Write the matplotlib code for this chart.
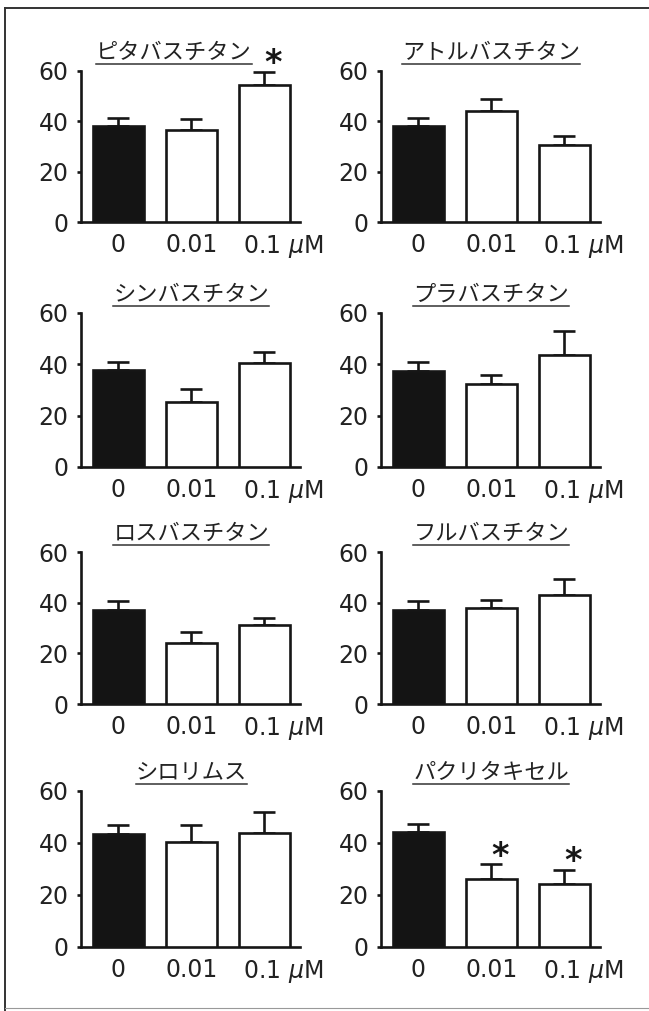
import numpy as np
import matplotlib
matplotlib.use('Agg')
import matplotlib.pyplot as plt
from matplotlib.lines import Line2D
from matplotlib.transforms import ScaledTranslation

plt.rcParams['font.family'] = ['DejaVu Sans', 'Noto Sans CJK JP']

# ---------------------------------------------------------------
# data
# ---------------------------------------------------------------
doses = ['0', '0.01', '0.1 $\\mu$M']

titles = ['ピタバスチタン', 'アトルバスチタン', 'シンバスチタン', 'プラバスチタン',
          'ロスバスチタン', 'フルバスチタン', 'シロリムス', 'パクリタキセル']

pitava_mean = [38.1, 36.5, 54.4]
pitava_err = [3.1, 4.4, 5.4]
atorva_mean = [38.0, 44.1, 30.5]
atorva_err = [3.2, 4.9, 3.6]
simva_mean = [37.7, 25.3, 40.4]
simva_err = [3.1, 5.1, 4.4]
prava_mean = [37.3, 32.5, 43.8]
prava_err = [3.6, 3.3, 9.1]
rosuva_mean = [37.0, 24.2, 31.1]
rosuva_err = [3.5, 4.4, 2.9]
fluva_mean = [37.3, 37.8, 42.9]
fluva_err = [3.4, 3.4, 6.6]
siro_mean = [43.5, 40.4, 44.0]
siro_err = [3.3, 6.6, 8.1]
pacli_mean = [44.1, 26.0, 24.2]
pacli_err = [3.1, 5.8, 5.4]

# significance marks (*)
pitava_sig = [False, False, True]
pacli_sig = [False, True, True]
no_sig = [False, False, False]

means = [pitava_mean, atorva_mean, simva_mean, prava_mean,
         rosuva_mean, fluva_mean, siro_mean, pacli_mean]
errs = [pitava_err, atorva_err, simva_err, prava_err,
        rosuva_err, fluva_err, siro_err, pacli_err]
sigs = [pitava_sig, no_sig, no_sig, no_sig, no_sig, no_sig, no_sig, pacli_sig]

yticks = [0, 20, 40, 60]

# ---------------------------------------------------------------
# layout (pixels of a 649x1011 canvas)
# ---------------------------------------------------------------
W, H = 649, 1011
col_x = [(81, 300), (381, 600)]
row_y = [(71, 222), (313, 467), (552, 704), (791, 947)]
title_x = [0.76, 1, 1, 1, 1, 1, 1, 1]
ink = '#161616'
txt = '#222222'

fig = plt.figure(figsize=(W / 100, H / 100), dpi=100)

axes = []
title_texts = []
for i in range(8):
    r, c = divmod(i, 2)
    x0, x1 = col_x[c]
    y0, y1 = row_y[r]
    ax = fig.add_axes([x0 / W, 1 - y1 / H, (x1 - x0) / W, (y1 - y0) / H])
    axes.append(ax)
    x = np.arange(3)
    colors = ['#141414', 'white', 'white']
    ax.bar(x, means[i], width=0.7, color=colors, edgecolor=ink, linewidth=1.9,
           zorder=3)
    ax.errorbar(x, means[i], yerr=[np.zeros(3), errs[i]], fmt='none',
                ecolor=ink, elinewidth=1.9, capsize=8, capthick=1.9,
                zorder=2, clip_on=False)
    for j in range(3):
        if sigs[i][j]:
            ax.annotate('*', xy=(j, means[i][j] + errs[i][j]), xycoords='data',
                        xytext=(6, -1), textcoords='offset points',
                        ha='center', va='baseline', fontsize=24,
                        fontweight='bold', color=ink, annotation_clip=False)

    ax.set_xlim(-0.51, 2.49)
    ax.set_ylim(0, 60)
    ax.set_yticks(yticks)
    ax.set_xticks(x)
    ax.set_xticklabels(doses)
    for s in ['top', 'right']:
        ax.spines[s].set_visible(False)
    for s in ['left', 'bottom']:
        ax.spines[s].set_linewidth(1.9)
        ax.spines[s].set_color(ink)
    ax.tick_params(axis='y', length=3, width=1.9, color=ink, pad=6,
                   labelsize=17, labelcolor=txt)
    ax.tick_params(axis='x', length=0, pad=8, labelsize=17, labelcolor=txt)
    lab = ax.get_xticklabels()[2]
    lab.set_transform(lab.get_transform() +
                      ScaledTranslation(0.19, 0, fig.dpi_scale_trans))

    t = ax.annotate(titles[i], xy=(title_x[i], 60), xycoords='data',
                    xytext=(0, 9), textcoords='offset points',
                    ha='center', va='baseline', fontsize=16,
                    family='Noto Sans CJK JP', color=txt,
                    annotation_clip=False)
    title_texts.append(t)

# underline under each panel title
fig.canvas.draw()
for ax, t in zip(axes, title_texts):
    bb = t.get_window_extent()
    top = ax.transData.transform((0, 60))[1]
    yl = (top + 7) / H
    fig.add_artist(Line2D([bb.x0 / W, bb.x1 / W], [yl, yl],
                          transform=fig.transFigure, color='#333333', lw=1.1))

# outer frame
fig.add_artist(Line2D([5 / W, 5 / W], [0, 1 - 8 / H], transform=fig.transFigure,
                      color='#333333', lw=1.4))
fig.add_artist(Line2D([5 / W, 1], [1 - 8 / H, 1 - 8 / H],
                      transform=fig.transFigure, color='#333333', lw=1.4))
fig.add_artist(Line2D([5 / W, 1], [3 / H, 3 / H], transform=fig.transFigure,
                      color='#999999', lw=0.8))

plt.savefig('out.png', dpi=100)
